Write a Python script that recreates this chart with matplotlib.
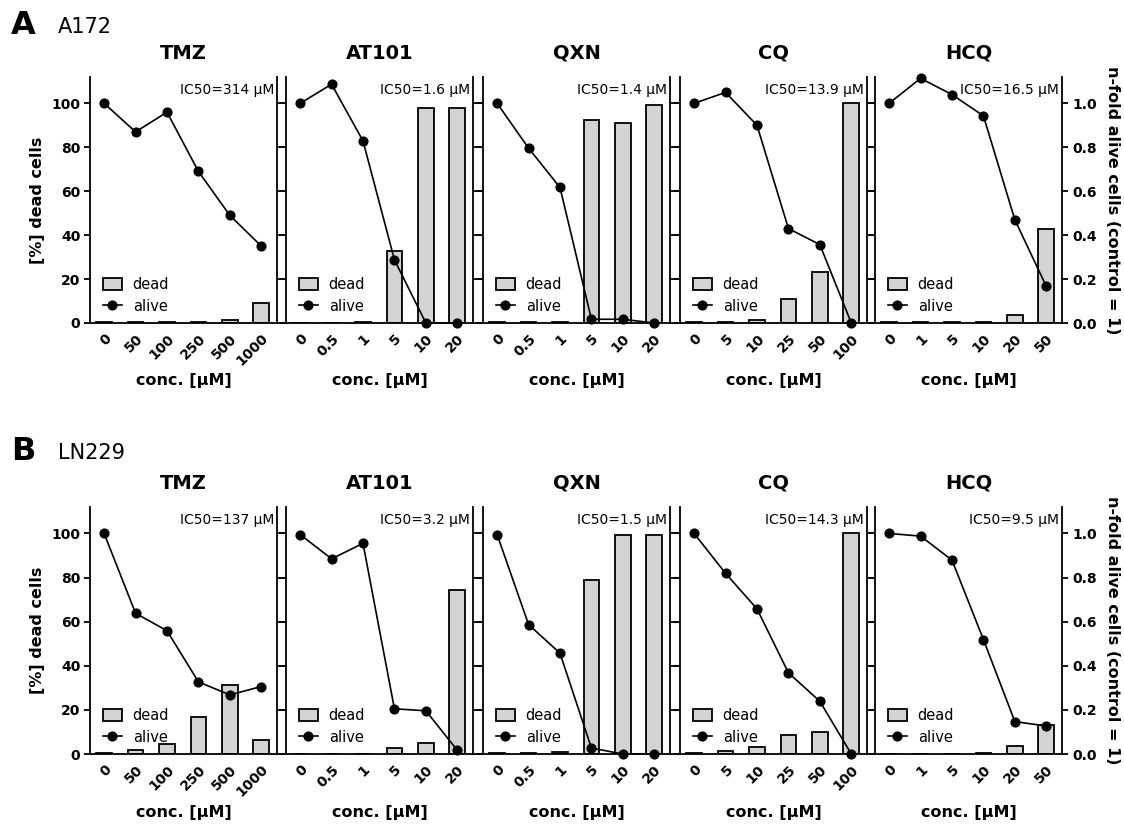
import matplotlib
matplotlib.use("agg")
from matplotlib import pyplot as plt
from matplotlib.patches import Patch
from matplotlib.lines import Line2D

plt.rcParams['font.family'] = ['DejaVu Sans']

drugs = ["TMZ", "AT101", "QXN", "CQ", "HCQ"]

conc_labels = [
    ["0", "50", "100", "250", "500", "1000"],
    ["0", "0.5", "1", "5", "10", "20"],
    ["0", "0.5", "1", "5", "10", "20"],
    ["0", "5", "10", "25", "50", "100"],
    ["0", "1", "5", "10", "20", "50"],
]

# A172
a172_dead = [
    [0.5, 0.3, 0.3, 0.5, 1.5, 9.0],
    [0.2, 0.0, 0.3, 32.6, 97.9, 97.9],
    [0.3, 0.3, 0.5, 92.5, 91.1, 99.2],
    [0.3, 0.5, 1.5, 11.0, 23.3, 100.0],
    [0.3, 0.3, 0.3, 0.5, 3.8, 43.0],
]
a172_alive = [
    [1.0, 0.87, 0.96, 0.69, 0.49, 0.35],
    [1.0, 1.087, 0.829, 0.288, 0.0, 0.0],
    [1.0, 0.796, 0.617, 0.017, 0.017, 0.0],
    [1.0, 1.05, 0.90, 0.43, 0.357, 0.0],
    [1.0, 1.114, 1.04, 0.943, 0.47, 0.167],
]
a172_ic50 = ["314", "1.6", "1.4", "13.9", "16.5"]

# LN229
ln229_dead = [
    [0.5, 1.8, 4.6, 16.6, 31.3, 6.4],
    [0.2, 0.1, 0.2, 2.8, 5.1, 74.3],
    [0.3, 0.5, 0.7, 78.9, 99.1, 99.1],
    [0.3, 1.3, 3.0, 8.4, 10.0, 100.0],
    [0.1, 0.1, 0.1, 0.4, 3.6, 13.1],
]
ln229_alive = [
    [1.0, 0.638, 0.559, 0.327, 0.268, 0.306],
    [0.995, 0.885, 0.955, 0.205, 0.196, 0.017],
    [0.995, 0.587, 0.457, 0.027, 0.0, 0.0],
    [1.0, 0.819, 0.658, 0.368, 0.239, 0.0],
    [1.0, 0.988, 0.879, 0.519, 0.147, 0.127],
]
ln229_ic50 = ["137", "3.2", "1.5", "14.3", "9.5"]

W, H = 1124, 824
fig = plt.figure(figsize=(W / 100, H / 100), dpi=100)

lefts = [90, 286, 483, 680, 875]
pw = 187
lw = 1.3


def draw_row(top_px, bottom_px, dead, alive, ic50, letter, cell_line, letter_y):
    fig.text(11 / W, 1 - letter_y / H, letter, fontsize=23, fontweight='bold',
             va='center', ha='left')
    fig.text(58 / W, 1 - (letter_y + 1) / H, cell_line, fontsize=15,
             va='center', ha='left')
    ah = bottom_px - top_px
    for i, d in enumerate(drugs):
        ax = fig.add_axes([lefts[i] / W, 1 - bottom_px / H, pw / W, ah / H])
        x = list(range(len(conc_labels[i])))
        ax.bar(x, dead[i], width=0.5, color='#d3d3d3', edgecolor='black',
               linewidth=lw, zorder=2)
        ax.set_xlim(-0.45, 5.5)
        ax.set_ylim(0, 112)
        ax.set_yticks([0, 20, 40, 60, 80, 100])
        ax.set_xticks(x)
        ax.set_xticklabels(conc_labels[i], rotation=45, ha='right',
                           rotation_mode='anchor', fontweight='bold', fontsize=10)
        ax.tick_params(axis='x', length=0, pad=6)
        ax.tick_params(axis='y', length=4, width=lw, direction='out', pad=3)
        for s in ['left', 'bottom']:
            ax.spines[s].set_linewidth(lw)
        ax.spines['top'].set_visible(False)
        ax.spines['right'].set_visible(False)
        if i == 0:
            ax.set_yticklabels(ax.get_yticks().astype(int), fontweight='bold',
                               fontsize=10)
            ax.set_ylabel("[%] dead cells", fontweight='bold', fontsize=11.5)
            ax.yaxis.set_label_coords(-45 / pw, 0.5)
        else:
            ax.set_yticklabels([])
        ax.set_xlabel("conc. [µM]", fontweight='bold', fontsize=11.5, va='center')
        ax.xaxis.set_label_coords(0.5, -58 / ah)
        ax.set_title(d, fontweight='bold', fontsize=14, pad=13)

        ax2 = ax.twinx()
        ax2.plot(x, alive[i], color='black', marker='o', markersize=6.3,
                 linewidth=1.2, zorder=3, clip_on=False)
        ax2.set_ylim(0, 1.12)
        ax2.set_yticks([0, 0.2, 0.4, 0.6, 0.8, 1.0])
        ax2.spines['right'].set_linewidth(lw)
        ax2.spines['top'].set_visible(False)
        ax2.spines['left'].set_visible(False)
        ax2.spines['bottom'].set_visible(False)
        if i == 4:
            ax2.tick_params(axis='y', length=4.5, width=lw, pad=3)
            ax2.set_yticklabels(["0.0", "0.2", "0.4", "0.6", "0.8", "1.0"],
                                fontweight='bold', fontsize=10)
            ax2.set_ylabel("n-fold alive cells (control = 1)", fontweight='bold',
                           fontsize=11.5, rotation=270, va='center')
            ax2.yaxis.set_label_coords(1 + 50 / pw, 0.5)
        else:
            ax2.tick_params(axis='y', length=6.8, width=lw)
            ax2.set_yticklabels([])
        ax2.text(0.985, 0.975, "IC50=" + ic50[i] + " µM", transform=ax2.transAxes,
                 ha='right', va='top', fontsize=10)
        handles = [Patch(facecolor='#d3d3d3', edgecolor='black', linewidth=lw),
                   Line2D([], [], color='black', marker='o', markersize=6.3,
                          linewidth=1.2)]
        ax2.legend(handles, ["dead", "alive"], loc='lower left',
                   bbox_to_anchor=(0.01, -0.008), frameon=False, fontsize=10.5,
                   handlelength=1.3, handleheight=0.9, handletextpad=0.75,
                   borderpad=0.25, labelspacing=0.5)


draw_row(77, 323, a172_dead, a172_alive, a172_ic50, "A", "A172", 26)
draw_row(507, 754, ln229_dead, ln229_alive, ln229_ic50, "B", "LN229", 452)

fig.savefig("out.png", dpi=100)
